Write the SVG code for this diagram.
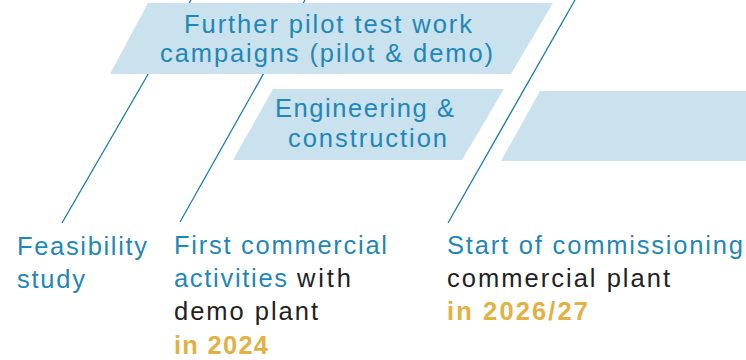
<svg xmlns="http://www.w3.org/2000/svg" width="746" height="360" viewBox="0 0 746 360">
<style>
.bar{fill:#c9e2ee}
.ln{stroke:#1a7db0;stroke-width:1.3;fill:none}
text{font-family:"Liberation Sans",Arial,sans-serif;font-size:25.5px}
.b{fill:#1f87b7}
.k{fill:#222}
.g{fill:#e3b042;font-weight:bold}
</style>
<rect width="746" height="360" fill="#fff"/>
<g id="connectors">
<line class="ln" x1="191" y1="0" x2="62" y2="223"/>
<line class="ln" x1="305" y1="0" x2="180" y2="222"/>
</g>
<g id="pilot">
<polygon class="bar" points="148,3 553,3 511,74 110,74"/>
<text class="b" x="184" y="33" textLength="288" lengthAdjust="spacing">Further pilot test work</text>
<text class="b" x="160" y="62" textLength="333" lengthAdjust="spacing">campaigns (pilot &amp; demo)</text>
</g>
<g id="engineering">
<polygon class="bar" points="273,89 504,89 462,160 233,160"/>
<text class="b" x="275" y="117" textLength="179" lengthAdjust="spacing">Engineering &amp;</text>
<text class="b" x="288" y="147" textLength="159" lengthAdjust="spacing">construction</text>
</g>
<g id="commercial">
<polygon class="bar" points="540,91 746,91 746,161 501,161"/>
</g>
<g id="connector3">
<line class="ln" x1="575" y1="0" x2="448" y2="223"/>
</g>
<g id="feasibility">
<text class="b" x="17" y="255" textLength="130" lengthAdjust="spacing">Feasibility</text>
<text class="b" x="17" y="288" textLength="68" lengthAdjust="spacing">study</text>
</g>
<g id="first">
<text class="b" x="174" y="254" textLength="213" lengthAdjust="spacing">First commercial</text>
<text class="b" x="174" y="287" textLength="113" lengthAdjust="spacing">activities</text>
<text class="k" x="297" y="287" textLength="54" lengthAdjust="spacing">with</text>
<text class="k" x="174" y="320" textLength="144" lengthAdjust="spacing">demo plant</text>
<text class="g" x="174" y="354" textLength="94" lengthAdjust="spacing">in 2024</text>
</g>
<g id="start">
<text class="b" x="447" y="254" textLength="296" lengthAdjust="spacing">Start of commissioning</text>
<text class="k" x="447" y="287" textLength="223" lengthAdjust="spacing">commercial plant</text>
<text class="g" x="447" y="320" textLength="141" lengthAdjust="spacing">in 2026/27</text>
</g>
</svg>
